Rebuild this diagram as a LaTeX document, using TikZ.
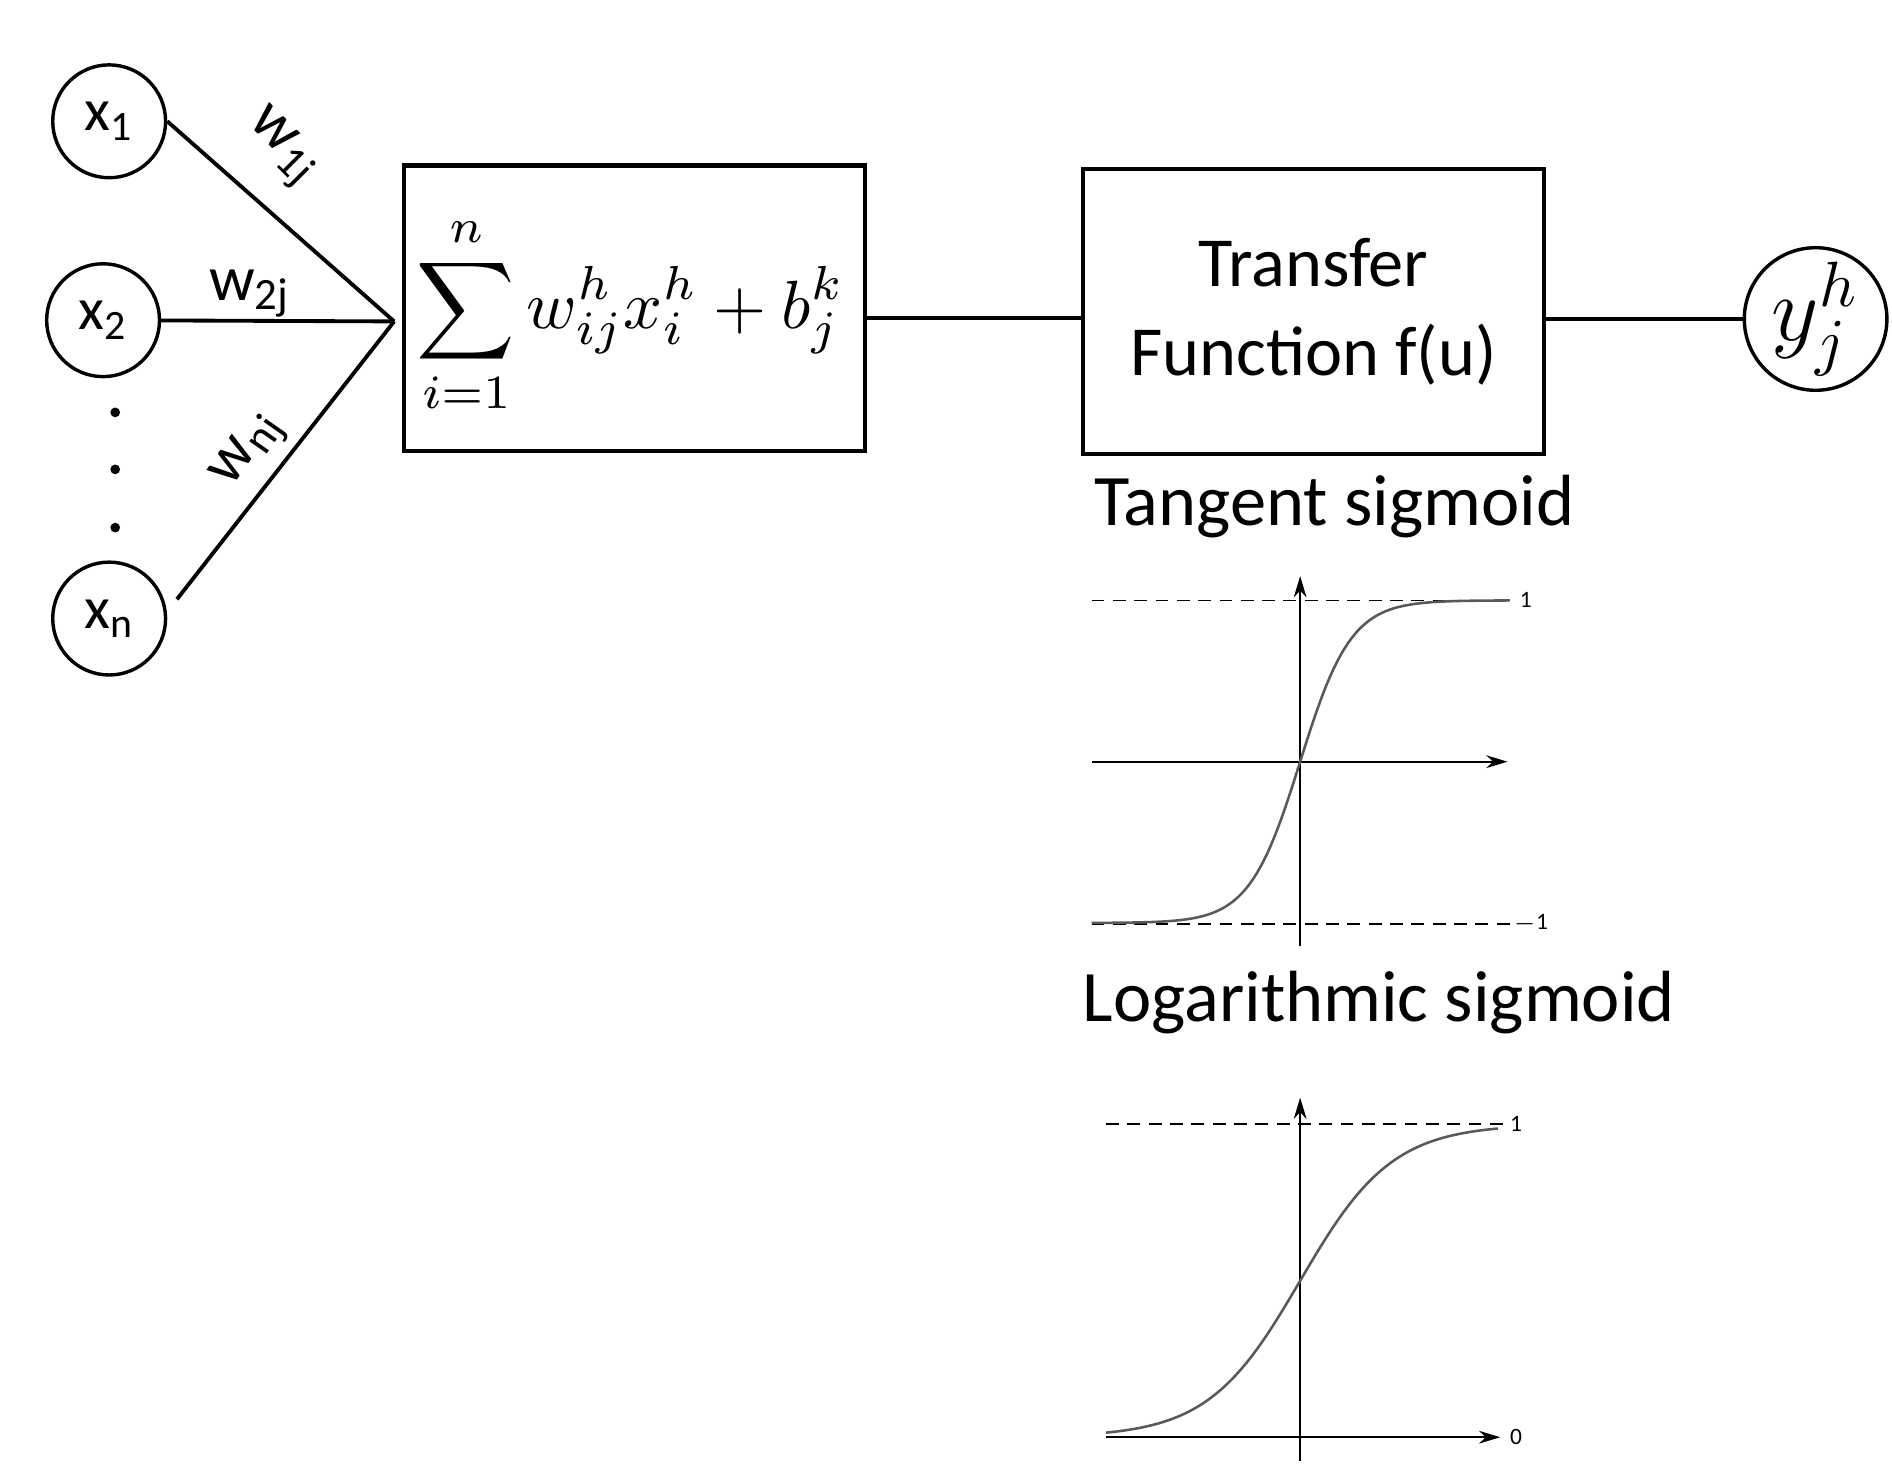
\documentclass[tikz,border=0pt]{standalone}
\usepackage{fontspec}
\setmainfont{Carlito}
\usetikzlibrary{arrows.meta}
\begin{document}
\begin{tikzpicture}[x=0.01cm,y=-0.01cm,
  neuron/.style={draw,circle,minimum size=0.93cm,inner sep=0pt,line width=0.8pt,font=\fontsize{14}{16}\selectfont},
  blk/.style={draw,line width=1pt,minimum width=3.8cm,minimum height=2.35cm,inner sep=0pt},
  wire/.style={line width=0.9pt},
  lab/.style={font=\fontsize{15}{17}\selectfont},
  tick/.style={font=\fontsize{5.5}{6}\selectfont\rmfamily},
  ax/.style={line width=0.5pt,-{Stealth[length=5pt,width=3pt]}},
  dsh/.style={line width=0.4pt,dashed,dash pattern=on 3pt off 2pt},
  crv/.style={line width=0.6pt,gray!70!black}]
\useasboundingbox (0,0) rectangle (1560,1223);
\node[neuron] (x1) at (90,100) {x\textsubscript{1}};
\node[neuron] (x2) at (85,264) {x\textsubscript{2}};
\node[neuron] (xn) at (90,510) {x\textsubscript{n}};
\foreach \yy in {340,387,435} \fill (95,\yy) circle (4);
\coordinate (c) at (325,265);
\node[blk] (sum) at (523,254) {};
\node (eq) at (520,260) {\scalebox{1.6}{$\displaystyle\sum_{i=1}^{n} w_{ij}^{h}x_{i}^{h}+b_{j}^{k}$}};
\node[blk,align=center,font=\fontsize{16.5}{21}\selectfont] (tf) at (1083,257) {Transfer\\Function f(u)};
\node[neuron] (y) at (1497,263) {\scalebox{1.5}{$y_j^h$}};
\draw[wire] (x1.east) -- (c);
\draw[wire] (x2) -- (c);
\draw[wire] ([shift={(22,18)}]xn.north east) -- (c);
\draw[wire] (sum.east |- 0,262) -- (tf.west |- 0,262);
\draw[wire] (tf.east |- 0,263) -- (y.west);
\node[lab,rotate=-45] (w1) at (232,122) {w\textsubscript{1j}};
\node[lab] (w2) at (206,242) {w\textsubscript{2j}};
\node[lab,rotate=55] (wn) at (206,372) {w\textsubscript{nj}};
\node[font=\fontsize{17}{20}\selectfont] (t1) at (1100,418) {Tangent sigmoid};
\node[font=\fontsize{17}{20}\selectfont] (t2) at (1137,827) {Logarithmic sigmoid};
% graph 1
\draw[dsh] (900,495) -- (1245,495);
\draw[dsh] (900,762) -- (1245,762);
\node[tick] (g1a) at (1258,495) {1};
\node[tick] (g1b) at (1262,762) {$-$1};
\draw[ax] (1072,780) -- (1072,475);
\draw[ax] (900,628) -- (1243,628);
\draw[crv,domain=900:1245,samples=120] plot (\x,{628-133*tanh((\x-1072)/42)});
% graph 2
\draw[dsh] (912,927) -- (1240,927);
\node[tick] (g2a) at (1250,927) {1};
\node[tick] (g2b) at (1250,1185) {0};
\draw[ax] (1072,1205) -- (1072,905);
\draw[ax] (912,1185) -- (1237,1185);
\draw[crv,domain=912:1235,samples=120] plot (\x,{1185-258/(1+exp(-(\x-1072)/38))});
\end{tikzpicture}
\end{document}
